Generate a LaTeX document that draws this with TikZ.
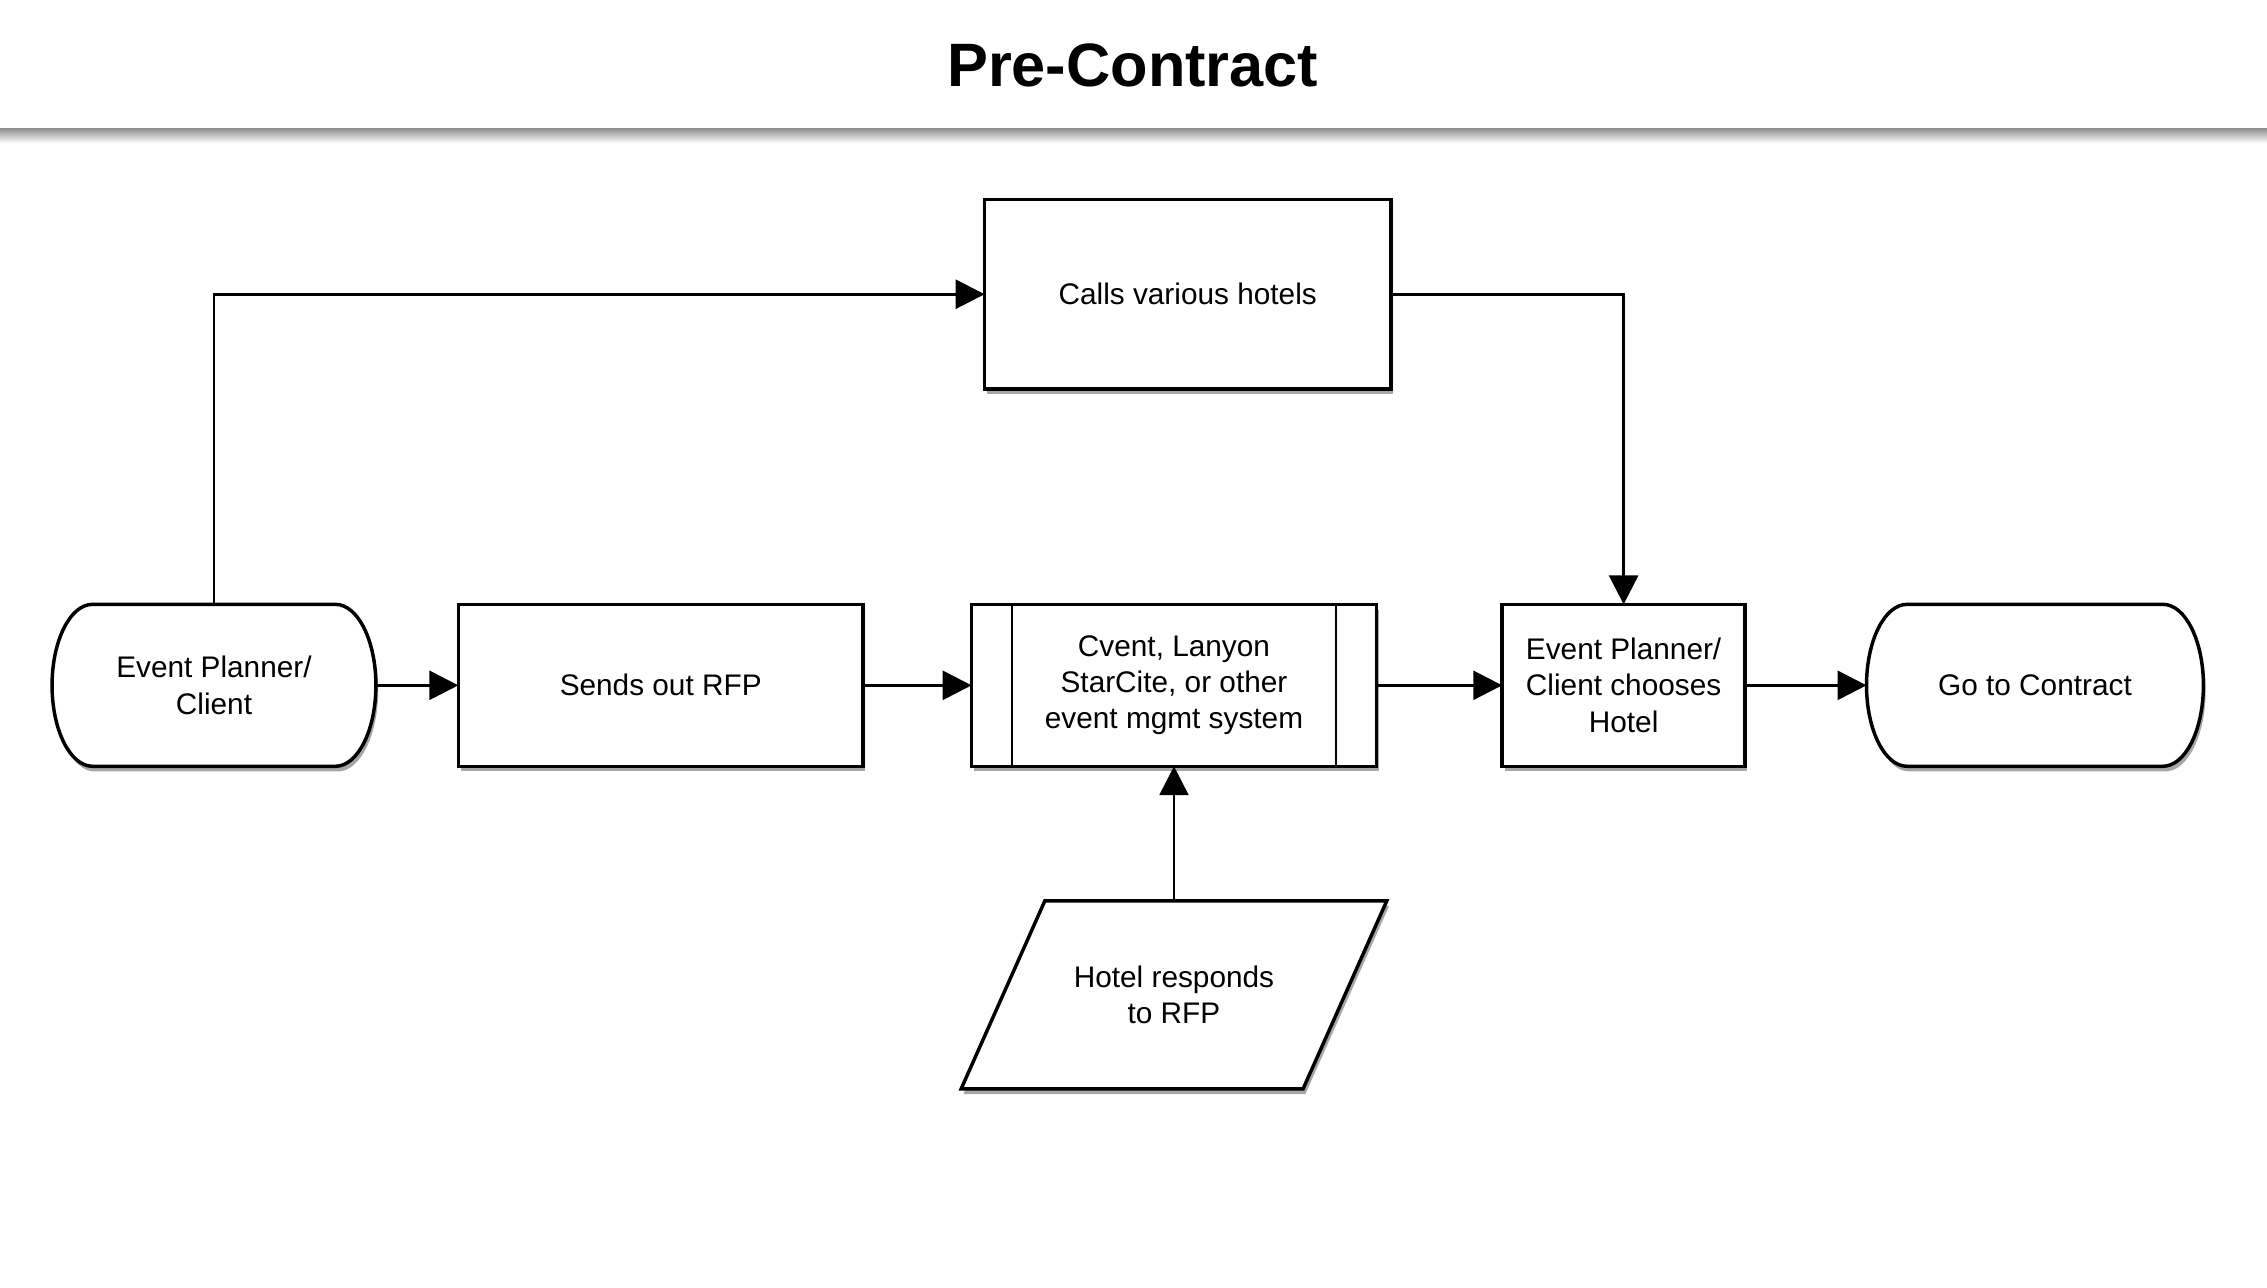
\documentclass[tikz,border=0pt]{standalone}
\usepackage{fontspec}
\setmainfont{Liberation Sans}
\usetikzlibrary{positioning,shapes.geometric,shadows,arrows.meta,backgrounds}

\begin{document}
\begin{tikzpicture}[x=0.5pt, y=-0.5pt, node distance=30pt]
	\tikzset{
		boxshadow/.style={drop shadow={shadow xshift=0.8pt, shadow yshift=-1.8pt, opacity=0.35, fill=black}},
		stepbox/.style={rectangle, draw=black, fill=white, line width=1.2pt, inner sep=2pt, outer sep=0pt, align=center, minimum height=56pt, font=\fontsize{10.3}{12.5}\selectfont, boxshadow},
		terminal/.style={rectangle, inner sep=2pt, outer sep=0pt, align=center, minimum height=56pt, font=\fontsize{10.3}{12.5}\selectfont},
		termline/.style={draw=black, fill=white, line width=1.2pt, boxshadow},
		datanode/.style={stepbox, trapezium, trapezium left angle=66, trapezium right angle=114, minimum height=0pt, minimum width=0pt, inner xsep=10pt, inner ysep=22.5pt},
		myarrow/.style={-{Triangle[length=10pt, width=10pt]}, line width=1pt}
	}
	\useasboundingbox (0,0) rectangle (1568,890.2);

	% header
	\node[font=\bfseries\fontsize{21.2}{25}\selectfont] (title) at (783.5,45) {Pre-Contract};
	\fill[top color=gray!85, bottom color=white] (0,89) rectangle (1568,99);

	% main row
	\node[terminal, minimum width=112pt] (planner) at (148,474) {Event Planner/\\Client};
	\node[stepbox, minimum width=140pt, right=28.5pt of planner] (sends) {Sends out RFP};
	\node[stepbox, minimum width=140pt, right=37.5pt of sends] (cvent) {Cvent, Lanyon\\StarCite, or other\\event mgmt system};
	\node[stepbox, minimum width=84pt, right=43.5pt of cvent] (chooses) {Event Planner/\\Client chooses\\Hotel};
	\node[terminal, minimum width=116.5pt, right=42pt of chooses] (contract) {Go to Contract};

	\node[stepbox, minimum width=140.5pt, minimum height=65.5pt] (calls) at (821.5,203.5) {Calls various hotels};
	\node[datanode, below=46.5pt of cvent] (hotel) {Hotel responds\\to RFP};

	% outlines of the start/end nodes
	\begin{pgfonlayer}{background}
		\draw[termline] ([xshift=14pt]planner.north west) -- ([xshift=-14pt]planner.north east)
			arc[start angle=90, end angle=-90, x radius=14pt, y radius=28pt] -- ([xshift=14pt]planner.south west)
			arc[start angle=270, end angle=90, x radius=14pt, y radius=28pt] -- cycle;
		\draw[termline] ([xshift=14pt]contract.north west) -- ([xshift=-14pt]contract.north east)
			arc[start angle=90, end angle=-90, x radius=14pt, y radius=28pt] -- ([xshift=14pt]contract.south west)
			arc[start angle=270, end angle=90, x radius=14pt, y radius=28pt] -- cycle;
	\end{pgfonlayer}

	% predefined process bars
	\draw[line width=0.8pt] ([xshift=14pt]cvent.north west) -- ([xshift=14pt]cvent.south west);
	\draw[line width=0.8pt] ([xshift=-14pt]cvent.north east) -- ([xshift=-14pt]cvent.south east);

	\draw[myarrow] (planner.north) |- (calls.west);
	\draw[myarrow] (calls.east) -| (chooses.north);
	\draw[myarrow] (planner) -- (sends);
	\draw[myarrow] (sends) -- (cvent);
	\draw[myarrow] (cvent) -- (chooses);
	\draw[myarrow] (chooses) -- (contract);
	\draw[myarrow] (hotel.north) -- (cvent.south);
\end{tikzpicture}
\end{document}
